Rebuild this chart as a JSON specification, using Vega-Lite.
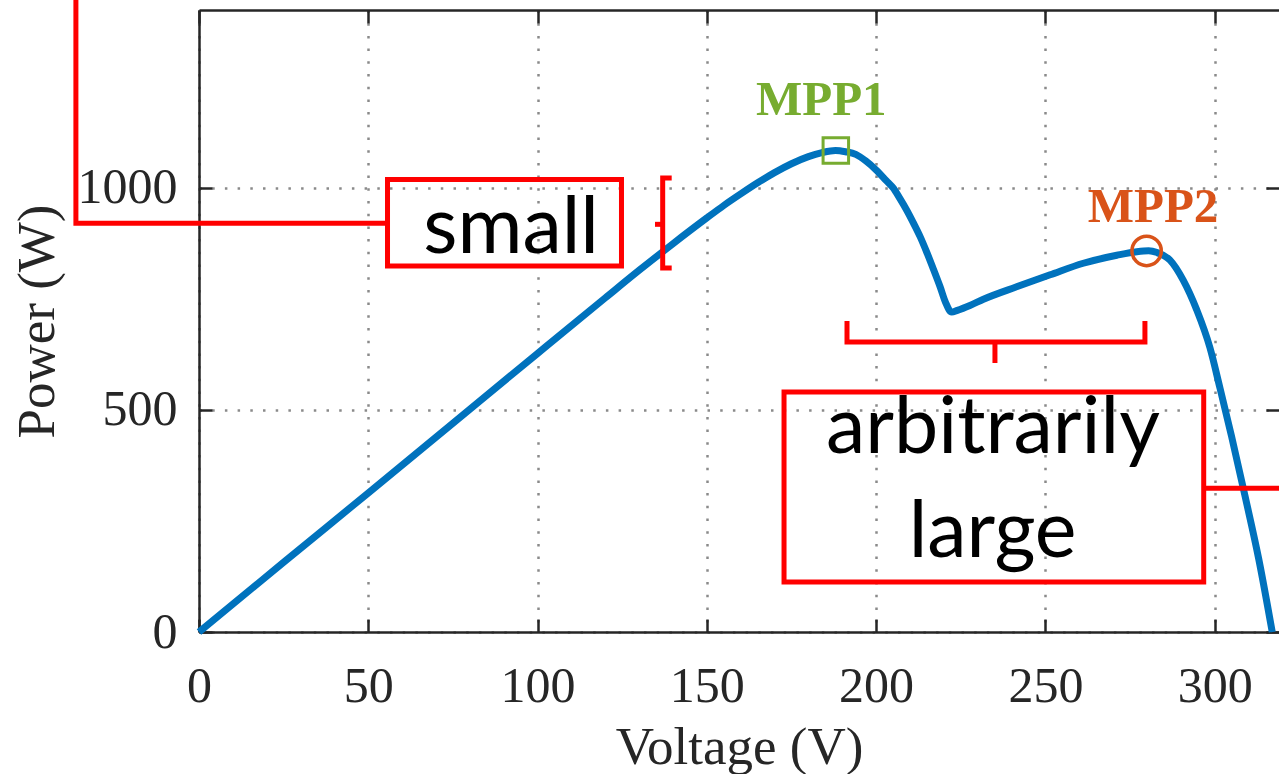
{
  "$schema": "https://vega.github.io/schema/vega-lite/v6.json",
  "width": 1080,
  "height": 622,
  "autosize": {"type": "none"},
  "padding": {"left": 199, "top": 10, "right": 0, "bottom": 142},
  "background": "white",
  "config": {
    "view": {"stroke": null},
    "axis": {
      "domainColor": "#262626",
      "domainWidth": 2.5,
      "tickColor": "#262626",
      "tickWidth": 2.5,
      "tickSize": -13,
      "labelFont": "Liberation Serif",
      "labelFontSize": 50,
      "labelColor": "#262626",
      "labelFlush": false,
      "labelOverlap": false,
      "titleFont": "Liberation Serif",
      "titleFontSize": 53,
      "titleFontWeight": "normal",
      "titleColor": "#262626",
      "gridColor": "#8a8a8a",
      "gridWidth": 2.5,
      "gridDash": [2.5, 10.2],
      "gridOpacity": 1
    }
  },
  "datasets": {
    "curve": [
      {"v": 0, "p": 0}, {"v": 25, "p": 157}, {"v": 50, "p": 313}, {"v": 75, "p": 470},
      {"v": 100, "p": 627}, {"v": 120, "p": 752}, {"v": 130, "p": 814}, {"v": 140, "p": 874},
      {"v": 150, "p": 932}, {"v": 155, "p": 960}, {"v": 160, "p": 986}, {"v": 165, "p": 1011},
      {"v": 170, "p": 1034}, {"v": 175, "p": 1054}, {"v": 180, "p": 1070}, {"v": 184, "p": 1079},
      {"v": 188, "p": 1084}, {"v": 191, "p": 1081}, {"v": 194, "p": 1075}, {"v": 197, "p": 1060},
      {"v": 200, "p": 1040}, {"v": 203, "p": 1016}, {"v": 205.1, "p": 999}, {"v": 207, "p": 976},
      {"v": 209, "p": 950}, {"v": 211, "p": 921}, {"v": 213, "p": 890}, {"v": 215, "p": 854},
      {"v": 216.9, "p": 817}, {"v": 218.9, "p": 777}, {"v": 220.5, "p": 742}, {"v": 222.3, "p": 720},
      {"v": 224, "p": 724}, {"v": 227.7, "p": 735}, {"v": 231.7, "p": 749}, {"v": 241.5, "p": 777},
      {"v": 251.4, "p": 804}, {"v": 261.2, "p": 830}, {"v": 271.1, "p": 848}, {"v": 277, "p": 856},
      {"v": 280.5, "p": 858}, {"v": 283, "p": 854}, {"v": 286.8, "p": 837}, {"v": 290.7, "p": 792},
      {"v": 294.7, "p": 725}, {"v": 298.6, "p": 640}, {"v": 301.6, "p": 548}, {"v": 305, "p": 440},
      {"v": 309, "p": 305}, {"v": 313, "p": 165}, {"v": 317, "p": 0}
    ],
    "paths": [
      {"g": "lead_small", "k": 0, "v": -36.36, "p": 1440},
      {"g": "lead_small", "k": 1, "v": -36.36, "p": 919.9},
      {"g": "lead_small", "k": 2, "v": 55.68, "p": 919.9},
      {"g": "brace_v", "k": 0, "v": 139.62, "p": 1021.8},
      {"g": "brace_v", "k": 1, "v": 136.96, "p": 1021.8},
      {"g": "brace_v", "k": 2, "v": 136.96, "p": 819.3},
      {"g": "brace_v", "k": 3, "v": 139.62, "p": 819.3},
      {"g": "brace_v_tip", "k": 0, "v": 136.96, "p": 917.6},
      {"g": "brace_v_tip", "k": 1, "v": 134.69, "p": 917.6},
      {"g": "brace_h", "k": 0, "v": 191.4, "p": 700},
      {"g": "brace_h", "k": 1, "v": 191.4, "p": 652.7},
      {"g": "brace_h", "k": 2, "v": 279.4, "p": 652.7},
      {"g": "brace_h", "k": 3, "v": 279.4, "p": 700},
      {"g": "brace_h_tip", "k": 0, "v": 235.1, "p": 652.7},
      {"g": "brace_h_tip", "k": 1, "v": 235.1, "p": 605.5},
      {"g": "lead_large", "k": 0, "v": 296.76, "p": 323.4},
      {"g": "lead_large", "k": 1, "v": 321, "p": 323.4}
    ],
    "boxes": [
      {"v1": 55.68, "v2": 124.79, "p1": 823.8, "p2": 1018.5},
      {"v1": 172.8, "v2": 296.76, "p1": 112.5, "p2": 540.2}
    ],
    "notes": [
      {"t": "small", "v": 92.2, "p": 853},
      {"t": "arbitrarily", "v": 234.5, "p": 402.9},
      {"t": "large", "v": 234.4, "p": 169.5}
    ],
    "mpp": [
      {"name": "MPP1", "v": 188.1, "p": 1084, "lv": 183.8, "lp": 1163.7},
      {"name": "MPP2", "v": 279.9, "p": 857.6, "lv": 281.8, "lp": 923.5}
    ]
  },
  "layer": [
    {
      "data": {"name": "curve"},
      "mark": {"type": "line", "color": "#0072BD", "strokeWidth": 7, "interpolate": "monotone", "strokeCap": "butt"},
      "encoding": {
        "x": {
          "field": "v", "type": "quantitative",
          "scale": {"domain": [0, 319], "nice": false, "zero": false},
          "axis": {
            "orient": "bottom", "title": "Voltage (V)",
            "values": [0, 50, 100, 150, 200, 250, 300],
            "grid": true, "labelPadding": 42, "titlePadding": 10
          }
        },
        "y": {
          "field": "p", "type": "quantitative",
          "scale": {"domain": [0, 1400], "nice": false, "zero": false},
          "axis": {
            "orient": "left", "title": "Power (W)", "format": "d",
            "values": [0, 500, 1000],
            "grid": true, "labelPadding": 35, "titlePadding": 13
          }
        }
      }
    },
    {
      "data": {"name": "paths"},
      "mark": {"type": "line", "color": "#FF0000", "strokeWidth": 5, "strokeCap": "butt", "strokeJoin": "miter"},
      "encoding": {
        "x": {
          "field": "v", "type": "quantitative",
          "scale": {"domain": [0, 319], "nice": false, "zero": false},
          "axis": {
            "orient": "top", "title": null, "labels": false, "grid": false,
            "values": [0, 50, 100, 150, 200, 250, 300]
          }
        },
        "y": {
          "field": "p", "type": "quantitative",
          "scale": {"domain": [0, 1400], "nice": false, "zero": false},
          "axis": {
            "orient": "right", "title": null, "labels": false, "grid": false, "domain": false,
            "values": [0, 500, 1000]
          }
        },
        "detail": {"field": "g", "type": "nominal"},
        "order": {"field": "k", "type": "quantitative"}
      }
    },
    {
      "data": {"name": "boxes"},
      "mark": {"type": "rect", "filled": false, "stroke": "#FF0000", "strokeWidth": 5},
      "encoding": {
        "x": {"field": "v1", "type": "quantitative", "scale": {"domain": [0, 319], "nice": false, "zero": false}, "axis": null},
        "x2": {"field": "v2"},
        "y": {"field": "p1", "type": "quantitative", "scale": {"domain": [0, 1400], "nice": false, "zero": false}, "axis": null},
        "y2": {"field": "p2"}
      }
    },
    {
      "data": {"name": "notes"},
      "mark": {"type": "text", "font": "Lato", "fontSize": 79, "color": "#000000", "align": "center", "baseline": "alphabetic"},
      "encoding": {
        "x": {"field": "v", "type": "quantitative", "scale": {"domain": [0, 319], "nice": false, "zero": false}, "axis": null},
        "y": {"field": "p", "type": "quantitative", "scale": {"domain": [0, 1400], "nice": false, "zero": false}, "axis": null},
        "text": {"field": "t"}
      }
    },
    {
      "data": {"name": "mpp"},
      "transform": [{"filter": "datum.name === 'MPP1'"}],
      "mark": {"type": "point", "shape": "square", "filled": false, "size": 650, "stroke": "#77AC30", "strokeWidth": 3, "opacity": 1},
      "encoding": {
        "x": {"field": "v", "type": "quantitative", "scale": {"domain": [0, 319], "nice": false, "zero": false}, "axis": null},
        "y": {"field": "p", "type": "quantitative", "scale": {"domain": [0, 1400], "nice": false, "zero": false}, "axis": null}
      }
    },
    {
      "data": {"name": "mpp"},
      "transform": [{"filter": "datum.name === 'MPP2'"}],
      "mark": {"type": "point", "shape": "circle", "filled": false, "size": 860, "stroke": "#D95319", "strokeWidth": 3.5, "opacity": 1},
      "encoding": {
        "x": {"field": "v", "type": "quantitative", "scale": {"domain": [0, 319], "nice": false, "zero": false}, "axis": null},
        "y": {"field": "p", "type": "quantitative", "scale": {"domain": [0, 1400], "nice": false, "zero": false}, "axis": null}
      }
    },
    {
      "data": {"name": "mpp"},
      "mark": {"type": "text", "font": "Liberation Serif", "fontSize": 49, "fontWeight": "bold", "align": "center", "baseline": "alphabetic"},
      "encoding": {
        "x": {"field": "lv", "type": "quantitative", "scale": {"domain": [0, 319], "nice": false, "zero": false}, "axis": null},
        "y": {"field": "lp", "type": "quantitative", "scale": {"domain": [0, 1400], "nice": false, "zero": false}, "axis": null},
        "text": {"field": "name"},
        "color": {"field": "name", "type": "nominal", "scale": {"domain": ["MPP1", "MPP2"], "range": ["#77AC30", "#D95319"]}, "legend": null}
      }
    }
  ],
  "resolve": {"axis": {"x": "independent", "y": "independent"}}
}
